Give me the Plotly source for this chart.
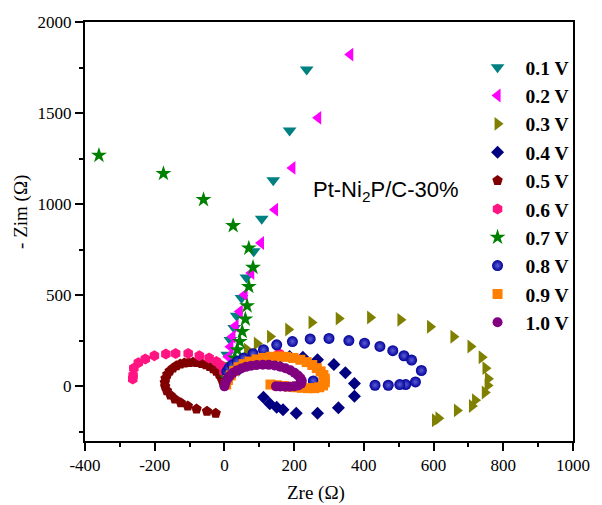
import plotly.graph_objects as go

# Nyquist data for Pt-Ni2P/C-30% at different potentials (Zre, -Zim in ohm)
zre_01 = [0, 3, 8, 17, 28, 35, 49, 63, 84, 107, 140, 187, 236]
zim_01 = [19, 91, 173, 255, 320, 387, 485, 598, 741, 920, 1131, 1405, 1739]

zre_02 = [0, 3, 6, 11, 17, 23, 32, 44, 58, 77, 105, 145, 195, 269, 361]
zim_02 = [19, 58, 107, 162, 217, 272, 332, 411, 503, 622, 787, 970, 1199, 1474, 1821]

zre_03 = [65, 93, 131, 183, 250, 328, 418, 505, 590, 657, 706, 738, 749, 756, 755, 747, 719, 710, 667, 614, 604]
zim_03 = [201, 235, 273, 312, 351, 372, 378, 365, 327, 272, 219, 160, 100, 42, 5, -34, -76, -108, -132, -175, -186]

zre_04 = [15, 40, 70, 100, 130, 160, 187, 225, 267, 314, 347, 373, 373, 327, 267, 206, 168, 150, 130, 112]
zim_04 = [50, 90, 120, 140, 155, 165, 164, 160, 146, 120, 74, 16, -54, -118, -147, -147, -128, -115, -95, -60]

zre_05 = [-2, -5, -9, -15, -23, -32, -42, -53, -65, -78, -90, -103, -115, -127, -138, -148, -157, -164,
          -169, -171, -170, -165, -155, -142, -125, -105, -80, -50, -25]
zim_05 = [12, 30, 48, 66, 82, 96, 108, 118, 125, 130, 132, 131, 128, 122, 113, 100, 84, 65,
          44, 22, 0, -24, -48, -70, -90, -108, -124, -137, -148]

zre_06 = [-1, -10, -23, -44, -72, -104, -140, -168, -201, -227, -247, -260, -262, -263, 157]
zim_06 = [81, 116, 136, 155, 168, 180, 180, 178, 168, 150, 130, 100, 60, 40, 180]

zre_07 = [7, 13, 23, 30, 37, 44, 51, 60, 65, 70, 82, 70, 25, -60, -175, -360]
zim_07 = [45, 72, 118, 155, 200, 246, 301, 369, 442, 548, 653, 759, 882, 1025, 1168, 1268]

zre_08 = [7, 13, 23, 37, 55, 82, 112, 150, 195, 246, 300, 357, 402, 446, 483, 515, 537, 565,
          548, 520, 503, 470, 432, 255]
zim_08 = [81, 100, 118, 136, 155, 179, 201, 228, 246, 260, 263, 251, 237, 219, 196, 168, 144, 87,
          24, 10, 10, 6, 6, 30]

zre_09 = [5, 10, 18, 28, 40, 55, 72, 92, 112, 133, 155, 177, 198, 218, 236, 252, 265, 276, 284,
          288, 288, 283, 272, 258, 240, 222, 205, 188, 170, 150, 132]
zim_09 = [10, 35, 60, 85, 105, 122, 136, 148, 156, 162, 164, 162, 156, 146, 133, 117, 100, 82, 62,
          42, 22, 5, -5, -10, -10, -8, -5, -2, 2, 6, 10]

zre_10 = [0, 3, 8, 15, 24, 35, 48, 62, 77, 93, 110, 127, 144, 160, 175, 189, 201, 211, 218, 222,
          220, 212, 200, 187, 174, 160, 148]
zim_10 = [0, 20, 40, 57, 73, 87, 98, 107, 113, 117, 119, 118, 115, 108, 99, 88, 75, 60, 45, 30,
          15, 5, 0, -2, -2, -1, 0]

potentials = ["0.1 V", "0.2 V", "0.3 V", "0.4 V", "0.5 V", "0.6 V", "0.7 V", "0.8 V", "0.9 V", "1.0 V"]
zre_all = [zre_01, zre_02, zre_03, zre_04, zre_05, zre_06, zre_07, zre_08, zre_09, zre_10]
zim_all = [zim_01, zim_02, zim_03, zim_04, zim_05, zim_06, zim_07, zim_08, zim_09, zim_10]

# Tick labels (plain hyphen for negatives)
x_ticks = [-400, -200, 0, 200, 400, 600, 800, 1000]
x_tick_labels = ["-400", "-200", "0", "200", "400", "600", "800", "1000"]
y_ticks = [0, 500, 1000, 1500, 2000]
y_tick_labels = ["0", "500", "1000", "1500", "2000"]

styles = [
    dict(symbol="triangle-down", color="#008080", size=12),
    dict(symbol="triangle-left", color="#FF00FF", size=12),
    dict(symbol="triangle-right", color="#808000", size=12),
    dict(symbol="diamond", color="#000080", size=10),
    dict(symbol="pentagon", color="#800000", size=11),
    dict(symbol="hexagon", color="#FF1482", size=11),
    dict(symbol="star", color="#008000", size=12),
    dict(symbol="circle", color="#00009A", size=11,
         gradient=dict(type="radial", color="#5C5CD6")),
    dict(symbol="square", color="#FF8000", size=10),
    dict(symbol="circle", color="#800080", size=10),
]

fig = go.Figure()
for name, xs, ys, st in zip(potentials, zre_all, zim_all, styles):
    marker = dict(st)
    marker["line"] = dict(width=0)
    fig.add_trace(go.Scatter(x=xs, y=ys, mode="markers", name=name, marker=marker))

serif = "Liberation Serif"

fig.update_layout(
    width=602, height=505,
    margin=dict(l=85, r=21, t=22, b=64),
    paper_bgcolor="white", plot_bgcolor="white",
    font=dict(family=serif, size=17, color="black"),
    showlegend=True,
    legend=dict(
        x=0.788, y=0.938, xanchor="left", yanchor="top",
        font=dict(family=serif, size=19.5, color="black", weight=700),
        itemwidth=46, bgcolor="rgba(0,0,0,0)", borderwidth=0,
        tracegroupgap=0,
    ),
)

axis_common = dict(
    showgrid=False, zeroline=False,
    showline=True, linecolor="black", linewidth=2, mirror=True,
    ticks="outside", ticklen=8, tickwidth=1.5, tickcolor="black",
    tickfont=dict(family=serif, size=17, color="black"),
)

fig.update_xaxes(
    range=[-400, 1000], tickmode="array", tickvals=x_ticks, ticktext=x_tick_labels,
    minor=dict(dtick=100, tick0=0, ticks="outside", ticklen=4, tickwidth=1.5, tickcolor="black"),
    **axis_common,
)
fig.update_yaxes(
    range=[-300, 2000], tickmode="array", tickvals=y_ticks, ticktext=y_tick_labels,
    minor=dict(dtick=250, tick0=0, ticks="outside", ticklen=4, tickwidth=1.5, tickcolor="black"),
    **axis_common,
)

# Axis titles and sample label
fig.add_annotation(text="Zre (Ω)", xref="paper", yref="paper", x=0.474, y=-0.124,
                   showarrow=False, font=dict(family=serif, size=19, color="black"),
                   xanchor="center", yanchor="middle")
fig.add_annotation(text="- Zim (Ω)", xref="paper", yref="paper", x=-0.131, y=0.547,
                   showarrow=False, textangle=-90,
                   font=dict(family=serif, size=19, color="black"),
                   xanchor="center", yanchor="middle")
fig.add_annotation(text="Pt-Ni<sub>2</sub>P/C-30%", xref="paper", yref="paper",
                   x=0.617, y=0.597, showarrow=False,
                   font=dict(family="Liberation Sans", size=22, color="black"),
                   xanchor="center", yanchor="middle")

fig.write_html("out.html")
